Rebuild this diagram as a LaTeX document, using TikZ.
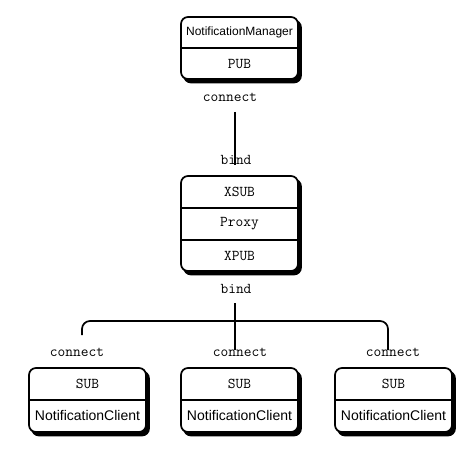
\documentclass[tikz,border=0pt]{standalone}
\usepackage{fontspec}
\setmainfont{Liberation Sans}
\begin{document}
\begin{tikzpicture}[x=1pt,y=-1pt,
  box/.style={draw, line width=1.7pt, fill=white, rounded corners=7pt, inner sep=0pt,
    minimum width=117pt,
    preaction={fill=black, draw, transform canvas={shift={(3pt,-3.5pt)}}}},
  divider/.style={line width=1.3pt},
  conn/.style={line width=1.7pt},
  mono/.style={font=\ttfamily\fontsize{15}{17}\selectfont, inner sep=0pt},
  title/.style={font=\fontsize{12}{14}\selectfont, inner sep=0pt},
  client/.style={font=\fontsize{14}{16}\selectfont, inner sep=0pt}]
\useasboundingbox (0,0) rectangle (476,457);
% manager
\node[box, minimum height=62pt] (mgr) at (239.5,48) {};
\draw[divider] (mgr.west |- 0,48) -- (mgr.east |- 0,48);
\node[title] (mgrname) at (239.5,32.5) {NotificationManager};
\node[mono] (mgrpub) at (239.5,64) {PUB};
\node[mono] (c0) at (230,97) {connect};
% proxy
\node[box, minimum height=95pt] (prx) at (239.5,223.5) {};
\draw[divider] (prx.west |- 0,208) -- (prx.east |- 0,208);
\draw[divider] (prx.west |- 0,240) -- (prx.east |- 0,240);
\node[mono] (xsub) at (239.5,192) {XSUB};
\node[mono] (proxy) at (239.5,224) {Proxy};
\node[mono] (xpub) at (239.5,256) {XPUB};
\node[mono] (b1) at (236,160) {bind};
\node[mono] (b2) at (236,289) {bind};
% clients
\foreach \n/\x/\cx in {L/87.5/77, M/239.5/240, R/393.5/393}{
  \node[box, minimum height=64pt] (cl\n) at (\x,400) {};
  \draw[divider] (cl\n.west |- 0,400) -- (cl\n.east |- 0,400);
  \node[mono] (sub\n) at (\x,384) {SUB};
  \node[client] (nc\n) at (\x,415) {NotificationClient};
  \node[mono] (c\n) at (\cx,352) {connect};
}
% connectors
\coordinate (t1) at (235.3,112);
\coordinate (t2) at (235.3,165);
\draw[conn] (t1) -- (t2);
\coordinate (m1) at (235.3,303);
\coordinate (m2) at (235.3,350);
\draw[conn] (m1) -- (m2);
\coordinate (l1) at (82,335);
\coordinate (r1) at (388,350);
\draw[conn, rounded corners=8pt] (l1) -- (82,321) -- (388,321) -- (r1);
\end{tikzpicture}
\end{document}
